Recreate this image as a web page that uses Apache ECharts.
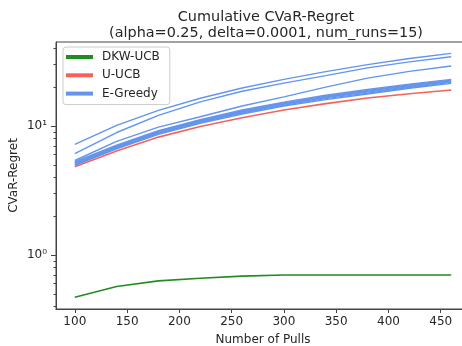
<!DOCTYPE html>
<html>
<head>
<meta charset="utf-8">
<script src="https://cdn.jsdelivr.net/npm/echarts@6/dist/echarts.min.js"></script>
<style>html,body{margin:0;padding:0;background:#fff;}#chart{width:462px;height:346px;}</style>
</head>
<body>
<div id="chart"></div>
<script>
const xValues = [100, 140, 180, 220, 260, 300, 340, 380, 420, 460];
const dkwUcb = [0.47, 0.57, 0.63, 0.66, 0.685, 0.70, 0.70, 0.70, 0.70, 0.70];
const uUcb = [4.84, 6.4, 8.2, 9.9, 11.6, 13.3, 14.9, 16.5, 17.8, 19.0];
const eGreedyRun1 = [7.2, 10.1, 13.2, 16.4, 19.7, 23.0, 26.4, 29.9, 33.4, 36.6];
const eGreedyRun2 = [6.1, 8.9, 12.1, 15.4, 18.6, 21.5, 24.6, 28.2, 31.4, 34.4];
const eGreedyRun3 = [5.4, 7.6, 9.8, 11.8, 14.3, 16.8, 20.0, 23.5, 26.5, 29.2];
const eGreedyRun4 = [4.95, 6.65, 8.6, 10.5, 12.4, 14.3, 16.0, 17.7, 19.6, 21.4];
const eGreedyRun5 = [5.0, 6.75, 8.75, 10.7, 12.6, 14.5, 16.3, 18.0, 19.9, 21.8];
const eGreedyRun6 = [5.05, 6.8, 8.85, 10.8, 12.8, 14.7, 16.6, 18.3, 20.2, 22.1];
const eGreedyRun7 = [5.15, 6.9, 8.95, 10.95, 12.95, 14.9, 16.8, 18.6, 20.5, 22.4];
const eGreedyRun8 = [5.2, 7.0, 9.1, 11.1, 13.1, 15.1, 17.0, 18.9, 20.8, 22.7];
const eGreedyRun9 = [5.3, 7.1, 9.2, 11.2, 13.3, 15.3, 17.3, 19.2, 21.1, 23.0];
const xTicks = [100, 150, 200, 250, 300, 350, 400, 450];
const yMajorTicks = [1, 10];
const yMajorLabels = ['10⁰', '10¹'];
const yMinorTicks = [0.4, 0.5, 0.6, 0.7, 0.8, 0.9, 2, 3, 4, 5, 6, 7, 8, 9, 20, 30, 40];

const FONT = 'DejaVu Sans';
const TXT = '#262626';
const SPINE = '#444';
const GREEN = '#228B22';
const RED = '#F4625A';
const BLUE = '#6495ED';

function pairs(arr) { return xValues.map((x, i) => [x, arr[i]]); }
function lineSeries(name, arr, color, width) {
  return {
    name: name, type: 'line', data: pairs(arr), showSymbol: false, symbol: 'none',
    lineStyle: { color: color, width: width }, itemStyle: { color: color },
    emphasis: { disabled: true }, silent: true, z: 3
  };
}
const eGreedyRuns = [eGreedyRun1, eGreedyRun2, eGreedyRun3, eGreedyRun4, eGreedyRun5,
                     eGreedyRun6, eGreedyRun7, eGreedyRun8, eGreedyRun9];

const chart = echarts.init(document.getElementById('chart'), null, { renderer: 'canvas' });
const yMin = 0.381, yMax = 44.8;
chart.setOption({
  animation: false,
  backgroundColor: '#fff',
  title: {
    text: 'Cumulative CVaR-Regret\n(alpha=0.25, delta=0.0001, num_runs=15)',
    left: 261, top: 4, textAlign: 'center',
    textStyle: { fontFamily: FONT, fontSize: 14.4, fontWeight: 'normal', color: TXT, lineHeight: 16.5 }
  },
  legend: {
    orient: 'vertical', left: 63, top: 47,
    data: ['DKW-UCB', 'U-UCB', 'E-Greedy'],
    icon: 'rect', itemWidth: 27, itemHeight: 4, itemGap: 4.3,
    padding: [3, 10, 4, 3],
    backgroundColor: 'rgba(255,255,255,0.85)', borderColor: '#cccccc', borderWidth: 1, borderRadius: 3,
    textStyle: { fontFamily: FONT, fontSize: 12, color: TXT, lineHeight: 14, padding: [0, 0, 0, 4] },
    selectedMode: false
  },
  grid: { left: 56, top: 42, right: -8, bottom: 37, containLabel: false, outerBoundsMode: 'none',
          show: true, borderColor: SPINE, borderWidth: 1, backgroundColor: '#fff' },
  xAxis: {
    type: 'value', min: 82, max: 478,
    name: 'Number of Pulls', nameLocation: 'middle', nameGap: 25, nameMoveOverlap: false,
    nameTextStyle: { fontFamily: FONT, fontSize: 12, color: TXT },
    axisLine: { show: true, lineStyle: { color: SPINE, width: 1 } },
    axisTick: { show: true, length: 4, lineStyle: { color: SPINE }, customValues: xTicks },
    axisLabel: { fontFamily: FONT, fontSize: 12, color: TXT, margin: 7, customValues: xTicks },
    splitLine: { show: false }
  },
  yAxis: [{
    type: 'log', logBase: 10, min: yMin, max: yMax,
    name: 'CVaR-Regret', nameLocation: 'middle', nameGap: 36, nameMoveOverlap: false,
    nameTextStyle: { fontFamily: FONT, fontSize: 12, color: TXT },
    axisLine: { show: true, lineStyle: { color: SPINE, width: 1 } },
    axisTick: { show: true, length: 5, lineStyle: { color: SPINE }, customValues: yMajorTicks },
    axisLabel: {
      fontFamily: FONT, fontSize: 12, color: TXT, margin: 9, customValues: yMajorTicks,
      formatter: function (v) { const i = yMajorTicks.findIndex(t => Math.abs(t - v) < 1e-6); return i >= 0 ? yMajorLabels[i] : ''; }
    },
    splitLine: { show: false }, minorTick: { show: false }
  }, {
    type: 'log', logBase: 10, min: yMin, max: yMax, position: 'left',
    axisLine: { show: false },
    axisTick: { show: true, length: 2.5, lineStyle: { color: SPINE }, customValues: yMinorTicks },
    axisLabel: { show: false },
    splitLine: { show: false }
  }],
  series: [
    lineSeries('DKW-UCB', dkwUcb, GREEN, 1.6),
    lineSeries('U-UCB', uUcb, RED, 1.6)
  ].concat(eGreedyRuns.map(r => lineSeries('E-Greedy', r, BLUE, 1.4)))
});
</script>
</body>
</html>
